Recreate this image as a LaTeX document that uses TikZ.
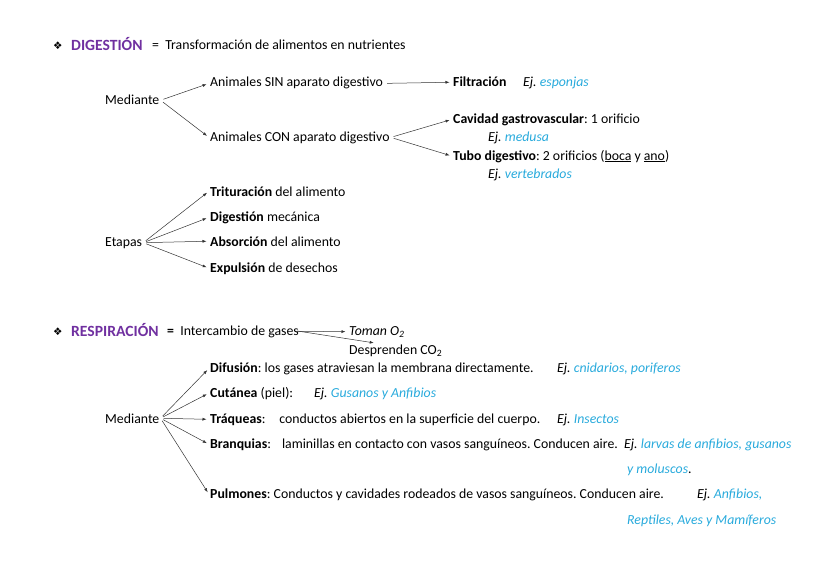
\documentclass[tikz,border=0pt]{standalone}
\usepackage{fontspec}
\setmainfont{Carlito}
\newfontfamily\dingfont{DejaVu Sans}
\usetikzlibrary{arrows.meta}
\definecolor{morado}{RGB}{112,48,160}
\definecolor{celeste}{RGB}{40,170,220}
\newcommand{\ej}[1]{\textit{Ej. \textcolor{celeste}{#1}}}
\newcommand{\celeste}[1]{\textit{\textcolor{celeste}{#1}}}
\frenchspacing

\begin{document}
\begin{tikzpicture}[x=1pt, y=-1pt,
  texto/.style={anchor=base west, inner sep=1pt, font=\fontsize{13.8}{16}\selectfont},
  titulo/.style={texto, font=\fontsize{15.6}{18}\selectfont\bfseries, text=morado},
  vineta/.style={texto, font=\fontsize{10.5}{12}\dingfont},
  flecha/.style={-{Latex[length=4pt,width=3pt]}, line width=0.5pt, black!80,
    shorten <=3pt, shorten >=2.5pt}]
 \useasboundingbox (0,0) rectangle (828,586);

 % digestion
 \node[vineta] (bul1) at (52,50) {❖};
 \node[titulo] (dig) at (70,51) {DIGESTIÓN};
 \node[texto] (def1) at (151,50) {= \ Transformación de alimentos en nutrientes};

 \node[texto] (med1) at (104,105) {Mediante};
 \node[texto] (sin) at (209,87) {Animales SIN aparato digestivo};
 \node[texto] (con) at (209,141) {Animales CON aparato digestivo};
 \node[texto] (filt) at (452,87) {\textbf{Filtración}};
 \node[texto] (ej1) at (522,87) {\ej{esponjas}};
 \node[texto] (cav) at (452,123) {\textbf{Cavidad gastrovascular}: 1 orificio};
 \node[texto] (ej2) at (487,141) {\ej{medusa}};
 \node[texto] (tubo) at (452,160) {\textbf{Tubo digestivo}: 2 orificios (\underline{boca} y \underline{ano})};
 \node[texto] (ej3) at (487,178) {\ej{vertebrados}};

 \node[texto] (eta) at (104,246) {Etapas};
 \node[texto] (tri) at (209,196) {\textbf{Trituración} del alimento};
 \node[texto] (mec) at (209,221) {\textbf{Digestión} mecánica};
 \node[texto] (abs) at (209,246) {\textbf{Absorción} del alimento};
 \node[texto] (exp) at (209,272) {\textbf{Expulsión} de desechos};

 \draw[flecha] (med1.east) to (sin.west);
 \draw[flecha] (med1.east) to (con.west);
 \draw[flecha] (sin.east) to (filt.west);
 \draw[flecha] (con.east) to (cav.west);
 \draw[flecha] (con.east) to (tubo.west);
 \draw[flecha] (eta.east) to (tri.west);
 \draw[flecha] (eta.east) to (mec.west);
 \draw[flecha] (eta.east) to (abs.west);
 \draw[flecha] (eta.east) to (exp.west);

 % respiracion
 \node[vineta] (bul2) at (52,335) {❖};
 \node[titulo] (res) at (70,336) {RESPIRACIÓN};
 \node[texto] (def2) at (166,335) {\textbf{=} \ Intercambio de gases};
 \node[texto] (toman) at (348,335) {\textit{Toman O\textsubscript{2}}};
 \node[texto] (desp) at (348,354) {Desprenden CO\textsubscript{2}};

 \node[texto] (med2) at (104,423) {Mediante};
 \node[texto] (dif) at (209,372) {\textbf{Difusión}: los gases atraviesan la membrana directamente.};
 \node[texto] (ej4) at (556,372) {\ej{cnidarios, poriferos}};
 \node[texto] (cut) at (209,397) {\textbf{Cutánea} (piel):};
 \node[texto] (ej5) at (313,397) {\ej{Gusanos y Anfibios}};
 \node[texto] (traq) at (209,423) {\textbf{Tráqueas}:\hspace{1em}conductos abiertos en la superficie del cuerpo.};
 \node[texto] (ej6) at (556,423) {\ej{Insectos}};
 \node[texto] (bra) at (209,448) {\textbf{Branquias}:\hspace{0.8em}laminillas en contacto con vasos sanguíneos. Conducen aire.};
 \node[texto] (ej7) at (623,448) {\ej{larvas de anfibios, gusanos}};
 \node[texto] (ej7b) at (626,473) {\celeste{y moluscos}.};
 \node[texto] (pul) at (209,498) {\textbf{Pulmones}: Conductos y cavidades rodeados de vasos sanguíneos. Conducen aire.};
 \node[texto] (ej8) at (696,498) {\ej{Anfibios,}};
 \node[texto] (ej8b) at (626,524) {\celeste{Reptiles, Aves y Mamíferos}};

 \draw[flecha, shorten <=-3pt] (def2.east) to (toman.west);
 \draw[flecha, shorten <=-3pt] (def2.east) to (desp.160);
 \draw[flecha] (med2.east) to (dif.west);
 \draw[flecha] (med2.east) to (cut.west);
 \draw[flecha] (med2.east) to (traq.west);
 \draw[flecha] (med2.east) to (bra.west);
 \draw[flecha] (med2.east) to (pul.west);
\end{tikzpicture}
\end{document}
